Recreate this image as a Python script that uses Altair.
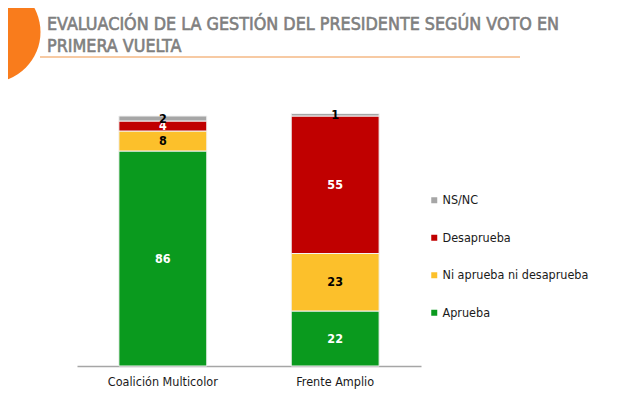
import altair as alt
import pandas as pd

groups = ["Coalición Multicolor", "Frente Amplio"]
categories = ["Aprueba", "Ni aprueba ni desaprueba", "Desaprueba", "NS/NC"]
coalicion = [86, 8, 4, 2]
frente = [22, 23, 55, 1]
legend_order = ["NS/NC", "Desaprueba", "Ni aprueba ni desaprueba", "Aprueba"]
colors = ["#a6a6a6", "#c00000", "#fcc02b", "#0a9a1e"]
label_colors = ["#ffffff", "#000000", "#ffffff", "#000000"]
title_lines = ["EVALUACIÓN DE LA GESTIÓN DEL PRESIDENTE SEGÚN VOTO EN", "PRIMERA VUELTA"]

rows = []
for g, vals in zip(groups, [coalicion, frente]):
    for i, (c, v) in enumerate(zip(categories, vals)):
        rows.append({"group": g, "cat": c, "value": v, "ord": i, "tcol": label_colors[i]})
df = pd.DataFrame(rows)

FONT = "DejaVu Sans Condensed"

base = alt.Chart(df).transform_stack(
    stack="value", as_=["y0", "y1"], groupby=["group"], sort=[alt.SortField("ord")]
).transform_calculate(mid="(datum.y0 + datum.y1) / 2")

xenc = alt.X(
    "group:N",
    sort=groups,
    title=None,
    scale=alt.Scale(paddingInner=0.49, paddingOuter=0.243),
    axis=alt.Axis(labelAngle=0, ticks=False, domainColor="#a6a6a6", domainWidth=1.5,
                  labelFont=FONT, labelFontSize=12.5, labelColor="#1a1a1a", labelPadding=9),
)
yscale = alt.Scale(domain=[0, 100], nice=False, zero=True)

bars = base.mark_bar(stroke="#f2f2f2", strokeWidth=1).encode(
    x=xenc,
    y=alt.Y("y0:Q", scale=yscale, axis=None),
    y2="y1:Q",
    color=alt.Color(
        "cat:N",
        scale=alt.Scale(domain=legend_order, range=colors),
        legend=alt.Legend(
            title=None, orient="none", legendX=351, legendY=78,
            symbolType="square", symbolSize=36, symbolStrokeWidth=0,
            labelFont=FONT, labelFontSize=12.5, labelColor="#1a1a1a",
            rowPadding=24.5, labelOffset=2,
        ),
    ),
)

labels = base.mark_text(font=FONT, fontSize=12.5, fontWeight="bold", baseline="middle").encode(
    x=alt.X("group:N", sort=groups),
    y=alt.Y("mid:Q", scale=yscale),
    text="value:Q",
    color=alt.Color("tcol:N", scale=None),
)

title_df = pd.DataFrame({"line": title_lines, "i": [0, 1]})
title_style = dict(font=FONT, fontSize=17.8, color="#7f7f7f", stroke="#7f7f7f", strokeWidth=0.6,
                   align="left", baseline="alphabetic")
title1 = alt.Chart(title_df.iloc[[0]]).mark_text(**title_style).encode(
    text="line:N", x=alt.value(-30), y=alt.value(-86))
title2 = alt.Chart(title_df.iloc[[1]]).mark_text(**title_style).encode(
    text="line:N", x=alt.value(-30), y=alt.value(-64))

underline = alt.Chart(title_df.iloc[[0]]).mark_rule(color="#f5b885", strokeWidth=1.5).encode(
    x=alt.value(-37), x2=alt.value(443), y=alt.value(-59)
)

circle = alt.Chart(title_df.iloc[[0]]).mark_point(filled=True, shape="circle", color="#f97c1c", opacity=1).encode(
    x=alt.value(-87), y=alt.value(-84), size=alt.value(10200)
)

chart = alt.layer(circle, underline, title1, title2, bars, labels).properties(
    width=344,
    height=250,
    padding={"left": 69, "top": 108, "right": 209, "bottom": 24},
    autosize=alt.AutoSizeParams(type="none"),
).configure_view(stroke=None)

chart.save("out.html", embed_options={"renderer": "svg", "actions": False})
